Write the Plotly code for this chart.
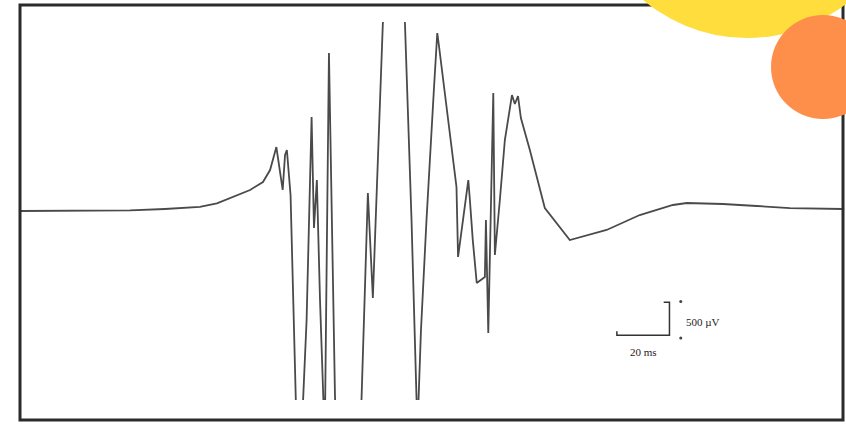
import plotly.graph_objects as go

# EMG-like recording: time (ms) and amplitude (µV)
time_ms = [0, 15.2, 30.4, 41.8, 55.1, 68.4, 74.9, 81.0, 87.5, 92.4, 95.1, 97.5, 98.8,
           99.9, 100.8, 101.5, 102.9, 103.9, 104.9, 106.3, 107.7, 109.0, 110.9, 111.8,
           112.9, 114.1, 115.3, 115.9, 117.5, 119.8, 120.5, 124.7, 129.3, 129.9, 132.3,
           134.2, 138.0, 142.2, 146.4, 148.9, 150.8, 151.3, 152.5, 154.6, 157.4, 158.7,
           159.3, 162.7, 166.0, 166.6, 170.5, 171.1, 172.2, 173.7, 176.8, 177.2, 178.1,
           180.0, 180.6, 182.5, 184.4, 187.1, 188.2, 189.4, 190.5, 193.9, 197.7, 199.6,
           209.1, 223.1, 235.7, 248.3, 253.6, 267.3, 280.2, 292.8, 312.9]
amp_uv = [0, 0, 0, 8, 30, 61, 117, 212, 318, 439, 620, 968, 651,
          318, 847, 923, 242, -1347, -2860, -3465, -2830, -1649, 1422, -257,
          469, -1347, -2860, -3465, 2391, -2814, -3313, -4373, -3313, -2830, 272,
          -1316, 2844, 4100, 2844, -136, -2830, -3162, -1800, -136, 1831, 2693,
          2512, 1422, 363, -696, 469, 166, -439, -1089, -999, -136, -1846,
          1785, -666, 166, 1074, 1755, 1619, 1740, 1407, 923, 363, 45,
          -439, -287, -61, 91, 121, 106, 76, 45, 30]

# Calibration bar
scale_ms = 20
scale_uv = 500
scale_t0 = 227
scale_v0 = -1880
scale_labels = ["500 \u00b5V", "20 ms"]

T_RANGE = [0, 313]
V_RANGE = [-2860, 2860]

W, H = 846, 426
ML, MR, MT, MB = 20, 3, 22, 26
PW, PH = W - ML - MR, H - MT - MB


def px(x):
    return (x - ML) / PW


def py(y):
    return (H - MB - y) / PH


fig = go.Figure()

fig.add_trace(go.Scatter(
    x=time_ms, y=amp_uv, mode="lines",
    line=dict(color="#4a4a4a", width=1.8),
    hoverinfo="skip", showlegend=False,
))

# calibration bar: 20 ms horizontal, 500 µV vertical
bx = [scale_t0, scale_t0, scale_t0 + scale_ms, scale_t0 + scale_ms, scale_t0 + scale_ms - 2.2]
by = [scale_v0 + 60, scale_v0, scale_v0, scale_v0 + scale_uv, scale_v0 + scale_uv]
fig.add_trace(go.Scatter(
    x=bx, y=by, mode="lines",
    line=dict(color="#333333", width=1.5),
    hoverinfo="skip", showlegend=False,
))
fig.add_trace(go.Scatter(
    x=[scale_t0 + scale_ms + 4.3, scale_t0 + scale_ms + 4.3],
    y=[scale_v0 + scale_uv + 10, scale_v0 - 40],
    mode="markers", marker=dict(color="#444444", size=3),
    hoverinfo="skip", showlegend=False,
))

fig.add_annotation(x=scale_t0 + scale_ms + 5.5, y=scale_v0 + scale_uv / 2 - 50,
                   text=scale_labels[0], showarrow=False, xanchor="left",
                   font=dict(family="Liberation Serif", size=11, color="#222222"))
fig.add_annotation(x=scale_t0 + scale_ms / 2, y=scale_v0 - 250,
                   text=scale_labels[1], showarrow=False, xanchor="center",
                   font=dict(family="Liberation Serif", size=11, color="#222222"))

# outer frame
fig.add_shape(type="rect", xref="paper", yref="paper",
              x0=px(20), x1=px(843), y0=py(420), y1=py(5),
              line=dict(color="#2b2b2b", width=3), fillcolor="rgba(0,0,0,0)")

# decorative circles
fig.add_shape(type="circle", xref="paper", yref="paper",
              x0=px(586), x1=px(908), y0=py(38), y1=py(-284),
              line=dict(width=0), fillcolor="#FEDD3C")
fig.add_shape(type="circle", xref="paper", yref="paper",
              x0=px(771), x1=px(875), y0=py(119), y1=py(15),
              line=dict(width=0), fillcolor="#FE8F4A")

fig.update_xaxes(range=T_RANGE, visible=False, fixedrange=True)
fig.update_yaxes(range=V_RANGE, visible=False, fixedrange=True)
fig.update_layout(
    width=W, height=H,
    margin=dict(l=ML, r=MR, t=MT, b=MB),
    paper_bgcolor="white", plot_bgcolor="white",
    showlegend=False,
)

fig.write_html("out.html")
